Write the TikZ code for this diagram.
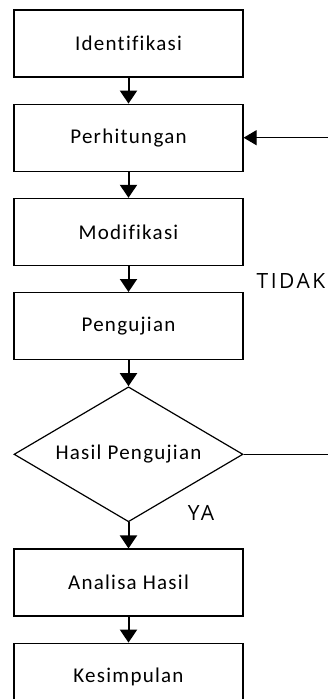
\documentclass[tikz,border=0pt]{standalone}
\usepackage{fontspec}
\newfontfamily\boxfont{Carlito}[LetterSpace=6, Ligatures=NoCommon]
\newfontfamily\yesnofont{Open Sans}[LetterSpace=12]
\usetikzlibrary{positioning, arrows.meta, shapes.geometric}
\tikzset{
process/.style={shape=rectangle, minimum width=229pt, minimum height=67pt, inner sep=0, draw, line width=1.2pt, font=\boxfont\fontsize{21}{24}\selectfont},
decision/.style={diamond, minimum width=229pt, minimum height=135pt, aspect=1.7, inner sep=0, draw, line width=1.2pt, font=\boxfont\fontsize{21}{24}\selectfont},
flow/.style={line width=2pt, -{Triangle[width=17pt, length=13pt]}},
back/.style={line width=1.2pt, -{Triangle[width=15pt, length=13pt]}},
answer/.style={font=\yesnofont\fontsize{21}{24}\selectfont, inner sep=0}}

\begin{document}
\begin{tikzpicture}[x=1pt, y=1pt, node distance=26pt]
\useasboundingbox (0,0) rectangle (327,-699);
\node [process] at (128.5,-43.5) (ident) {Identifikasi};
\node [process, below=of ident] (hitung) {Perhitungan};
\node [process, below=of hitung] (modif) {Modifikasi};
\node [process, below=of modif] (uji) {Pengujian};
\node [decision, below=of uji] (hasil) {Hasil Pengujian};
\node [process, below=of hasil] (analisa) {Analisa Hasil};
\node [process, below=of analisa] (simpul) {Kesimpulan};

\foreach \a/\b in {ident/hitung, hitung/modif, modif/uji, uji/hasil, hasil/analisa, analisa/simpul}
      \draw [flow] (\a) -- (\b);

% loop back, runs off the right edge
\coordinate (loop) at (340,0);
\draw [back] (hasil.east) -- (hasil.east -| loop) |- (hitung.east);

\node [answer] at (291,-281) (tidak) {TIDAK};
\node [answer] at (201,-513) (ya) {YA};
\end{tikzpicture}
\end{document}
